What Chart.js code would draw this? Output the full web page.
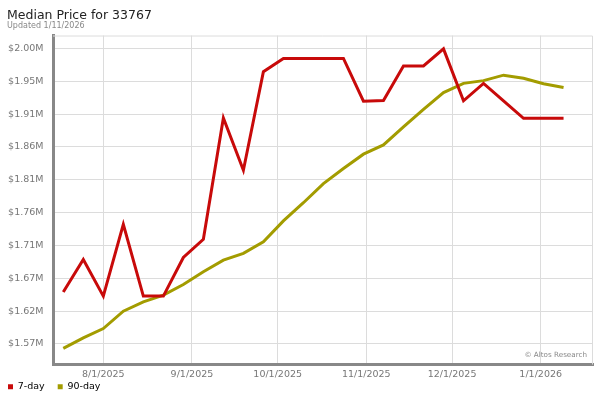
<!DOCTYPE html>
<html>
<head>
<meta charset="utf-8">
<title>Median Price for 33767</title>
<script src="https://cdn.jsdelivr.net/npm/chart.js@4.4.1/dist/chart.umd.min.js"></script>
<style>
    html, body { margin: 0; padding: 0; background: #ffffff; }
    #wrap { position: relative; width: 600px; height: 400px; }
</style>
</head>
<body>
<div id="wrap"><canvas id="priceChart" width="600" height="400"></canvas></div>
<script>
// Weekly data points (Fridays)
const dates = ['7/18/2025', '7/25/2025', '8/1/2025', '8/8/2025', '8/15/2025', '8/22/2025', '8/29/2025',
    '9/5/2025', '9/12/2025', '9/19/2025', '9/26/2025', '10/3/2025', '10/10/2025', '10/17/2025',
    '10/24/2025', '10/31/2025', '11/7/2025', '11/14/2025', '11/21/2025', '11/28/2025', '12/5/2025',
    '12/12/2025', '12/19/2025', '12/26/2025', '1/2/2026', '1/9/2026'];

const sevenDay = [1646000, 1693500, 1640000, 1745000, 1640000, 1640000, 1696500, 1723000, 1900500,
    1824000, 1968000, 1987500, 1987500, 1987500, 1987500, 1925000, 1926000, 1976500, 1976500,
    2001500, 1925500, 1951000, 1925500, 1900000, 1900000, 1900000];

const ninetyDay = [1563500, 1579000, 1592500, 1618000, 1631500, 1641500, 1657000, 1675500, 1692500,
    1702500, 1719500, 1750000, 1776500, 1804500, 1826500, 1847500, 1861000, 1887500, 1913000,
    1937500, 1951000, 1955000, 1963000, 1958500, 1950500, 1945000];

const monthTicks = ['8/1/2025', '9/1/2025', '10/1/2025', '11/1/2025', '12/1/2025', '1/1/2026'];
const priceTicks = [1570000, 1618000, 1666000, 1714000, 1762000, 1810000, 1858000, 1906000, 1954000, 2002000];

const seriesNames = ['7-day', '90-day'];
const seriesColors = ['#c80a0a', '#a39c00'];

// date string "m/d/yyyy" -> day number
function toDay(s) {
    const p = s.split('/');
    return Date.UTC(+p[2], +p[0] - 1, +p[1]) / 86400000;
}
function dayLabel(d) {
    const dt = new Date(d * 86400000);
    return (dt.getUTCMonth() + 1) + '/' + dt.getUTCDate() + '/' + dt.getUTCFullYear();
}

const aug1 = toDay('8/1/2025');

Chart.defaults.font.family = "'DejaVu Sans', sans-serif";
Chart.defaults.color = '#777777';

// title, subtitle, watermark, and light frame around plot
const extras = {
    id: 'extras',
    afterLayout(chart) {
        // legend sits a bit tighter than Chart.js places it
        chart.legend.left -= 5;
        chart.legend.top -= 14;
    },
    beforeDatasetsDraw(chart) {
        const ctx = chart.ctx;
        const a = chart.chartArea;
        ctx.save();
        ctx.strokeStyle = '#dcdcdc';
        ctx.lineWidth = 1;
        ctx.beginPath();
        ctx.moveTo(a.left, a.top + 0.5);
        ctx.lineTo(a.right - 0.5, a.top + 0.5);
        ctx.lineTo(a.right - 0.5, a.bottom);
        ctx.stroke();
        ctx.fillStyle = '#888888';
        ctx.font = "7.2px 'DejaVu Sans'";
        ctx.textAlign = 'right';
        ctx.textBaseline = 'alphabetic';
        ctx.fillText('\u00a9 Altos Research', a.right - 6, a.bottom - 8);
        ctx.restore();
    },
    afterDraw(chart) {
        const ctx = chart.ctx;
        ctx.save();
        ctx.textAlign = 'left';
        ctx.textBaseline = 'alphabetic';
        ctx.fillStyle = '#222222';
        ctx.font = "12.5px 'DejaVu Sans'";
        ctx.fillText('Median Price for 33767', 7, 18.5);
        ctx.fillStyle = '#888888';
        ctx.font = "8px 'DejaVu Sans'";
        ctx.fillText('Updated 1/11/2026', 7, 27.5);
        ctx.restore();
    }
};

const ctx = document.getElementById('priceChart').getContext('2d');
const priceChart = new Chart(ctx, {
    type: 'line',
    data: {
        datasets: [{
            label: seriesNames[0],
            data: dates.map((d, i) => ({ x: toDay(d), y: sevenDay[i] })),
            borderColor: seriesColors[0],
            backgroundColor: seriesColors[0],
            borderWidth: 3,
            pointRadius: 0,
            tension: 0
        }, {
            label: seriesNames[1],
            data: dates.map((d, i) => ({ x: toDay(d), y: ninetyDay[i] })),
            borderColor: seriesColors[1],
            backgroundColor: seriesColors[1],
            borderWidth: 3,
            pointRadius: 0,
            tension: 0
        }]
    },
    options: {
        responsive: false,
        animation: false,
        events: [],
        layout: {
            padding: { top: 35.5, right: 7, bottom: 0, left: 0 }
        },
        plugins: {
            tooltip: { enabled: false },
            legend: {
                display: true,
                position: 'bottom',
                align: 'start',
                maxHeight: 17,
                labels: {
                    color: '#222222',
                    font: { size: 9.5 },
                    boxWidth: 5,
                    boxHeight: 5,
                    padding: 13,
                    generateLabels: chart => chart.data.datasets.map((ds, i) => ({
                        text: ds.label,
                        fillStyle: ds.borderColor,
                        strokeStyle: ds.borderColor,
                        lineWidth: 0,
                        hidden: false,
                        datasetIndex: i
                    }))
                }
            }
        },
        scales: {
            x: {
                type: 'linear',
                min: aug1 - 17.6,
                max: aug1 + 171.3,
                afterFit: scale => { scale.height = 18.5; },
                afterBuildTicks: scale => {
                    scale.ticks = monthTicks.map(m => ({ value: toDay(m) }));
                },
                ticks: {
                    padding: 4,
                    maxRotation: 0,
                    autoSkip: false,
                    font: { size: 9.5 },
                    color: '#777777',
                    callback: v => dayLabel(v)
                },
                grid: { color: '#dcdcdc', drawTicks: false },
                border: { color: '#888888', width: 3 }
            },
            y: {
                min: 1540000,
                max: 2021000,
                afterFit: scale => { scale.width = 53; },
                afterBuildTicks: scale => {
                    scale.ticks = priceTicks.map(v => ({ value: v }));
                },
                ticks: {
                    padding: 9.5,
                    font: { size: 9.5 },
                    color: '#777777',
                    callback: v => '$' + (v / 1e6).toFixed(2) + 'M'
                },
                grid: { color: '#dcdcdc', drawTicks: false },
                border: { color: '#888888', width: 3 }
            }
        }
    },
    plugins: [extras]
});
</script>
</body>
</html>
